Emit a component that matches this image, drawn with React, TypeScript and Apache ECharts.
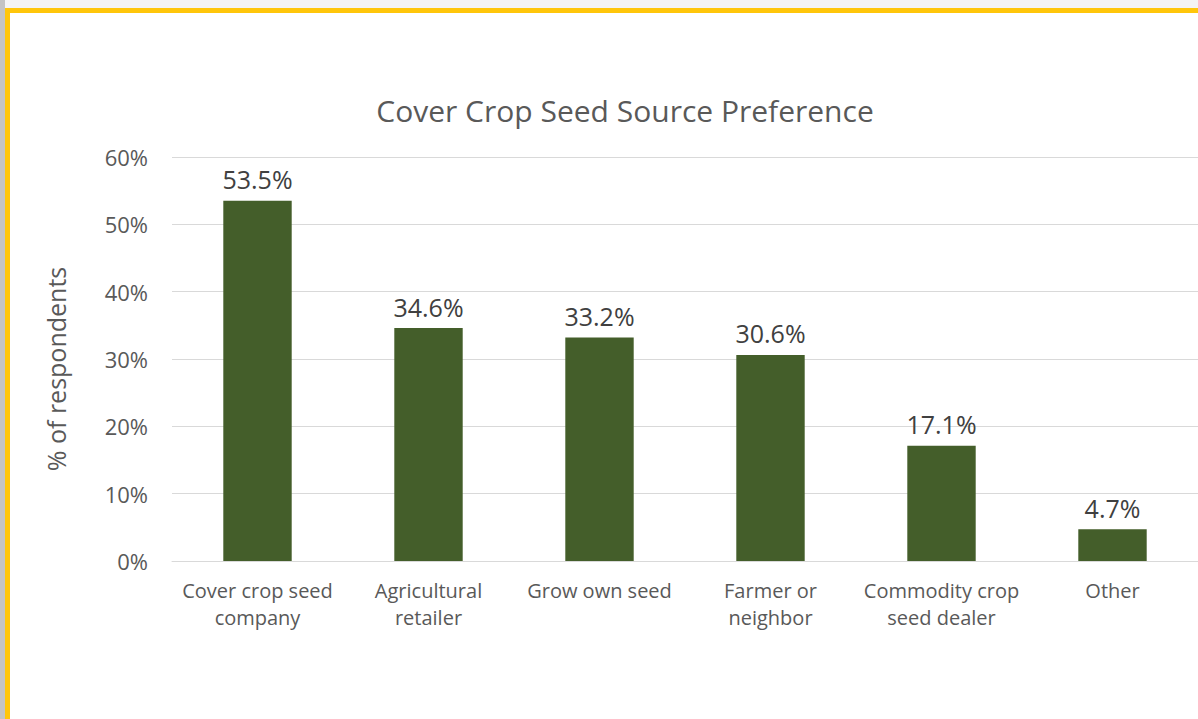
import React, { useEffect, useRef } from "react";
import * as echarts from "echarts";

const categories = [
  "Cover crop seed\ncompany",
  "Agricultural\nretailer",
  "Grow own seed",
  "Farmer or\nneighbor",
  "Commodity crop\nseed dealer",
  "Other",
];
const values = [53.5, 34.6, 33.2, 30.6, 17.1, 4.7];
const title = "Cover Crop Seed Source Preference";
const yAxisName = "% of respondents";

export default function App() {
  const ref = useRef<HTMLDivElement>(null);
  useEffect(() => {
    const chart = echarts.init(ref.current!, undefined, { renderer: "svg" });
    const font = "'Open Sans', sans-serif";
    chart.setOption({
      animation: false,
      backgroundColor: "#ffffff",
      title: {
        text: title,
        left: 620,
        top: 90,
        textAlign: "center",
        textStyle: { fontFamily: font, fontSize: 30, fontWeight: "normal", color: "#595959" },
      },
      grid: { left: 172, right: 0, top: 157, bottom: 158, containLabel: false },
      xAxis: {
        type: "category",
        data: categories,
        axisLine: { lineStyle: { color: "#d9d9d9", width: 1 } },
        axisTick: { show: false },
        axisLabel: {
          fontFamily: font,
          fontSize: 20,
          color: "#595959",
          lineHeight: 27,
          margin: 16,
          interval: 0,
        },
      },
      yAxis: {
        type: "value",
        min: 0,
        max: 60,
        interval: 10,
        name: yAxisName,
        nameLocation: "middle",
        nameGap: 104,
        nameTextStyle: { fontFamily: font, fontSize: 25, color: "#595959", padding: [0, 20, 0, 0] },
        axisLine: { show: false },
        axisTick: { show: false },
        splitLine: { lineStyle: { color: "#d9d9d9", width: 1 } },
        axisLabel: {
          formatter: "{value}%",
          fontFamily: font,
          fontSize: 22,
          color: "#595959",
          margin: 24,
        },
      },
      series: [
        {
          type: "bar",
          data: values,
          barWidth: "40%",
          itemStyle: { color: "#445E2A" },
          label: {
            show: true,
            position: "top",
            distance: 9,
            formatter: (p: any) => p.value.toFixed(1) + "%",
            fontFamily: font,
            fontSize: 25,
            color: "#404040",
          },
        },
      ],
      graphic: [
        { type: "rect", shape: { x: 0, y: 0, width: 1198, height: 8 }, style: { fill: "#f4f4f4" }, silent: true },
        { type: "rect", shape: { x: 0, y: 0, width: 5, height: 719 }, style: { fill: "#c4c4c4" }, silent: true },
        { type: "rect", shape: { x: 5, y: 8, width: 1193, height: 5 }, style: { fill: "#FFC60B" }, silent: true },
        { type: "rect", shape: { x: 5, y: 8, width: 5, height: 711 }, style: { fill: "#FFC60B" }, silent: true },
      ],
    });
    return () => chart.dispose();
  }, []);
  return (
    <div
      ref={ref}
      style={{ position: "fixed", left: 0, top: 0, width: 1198, height: 719 }}
    />
  );
}
